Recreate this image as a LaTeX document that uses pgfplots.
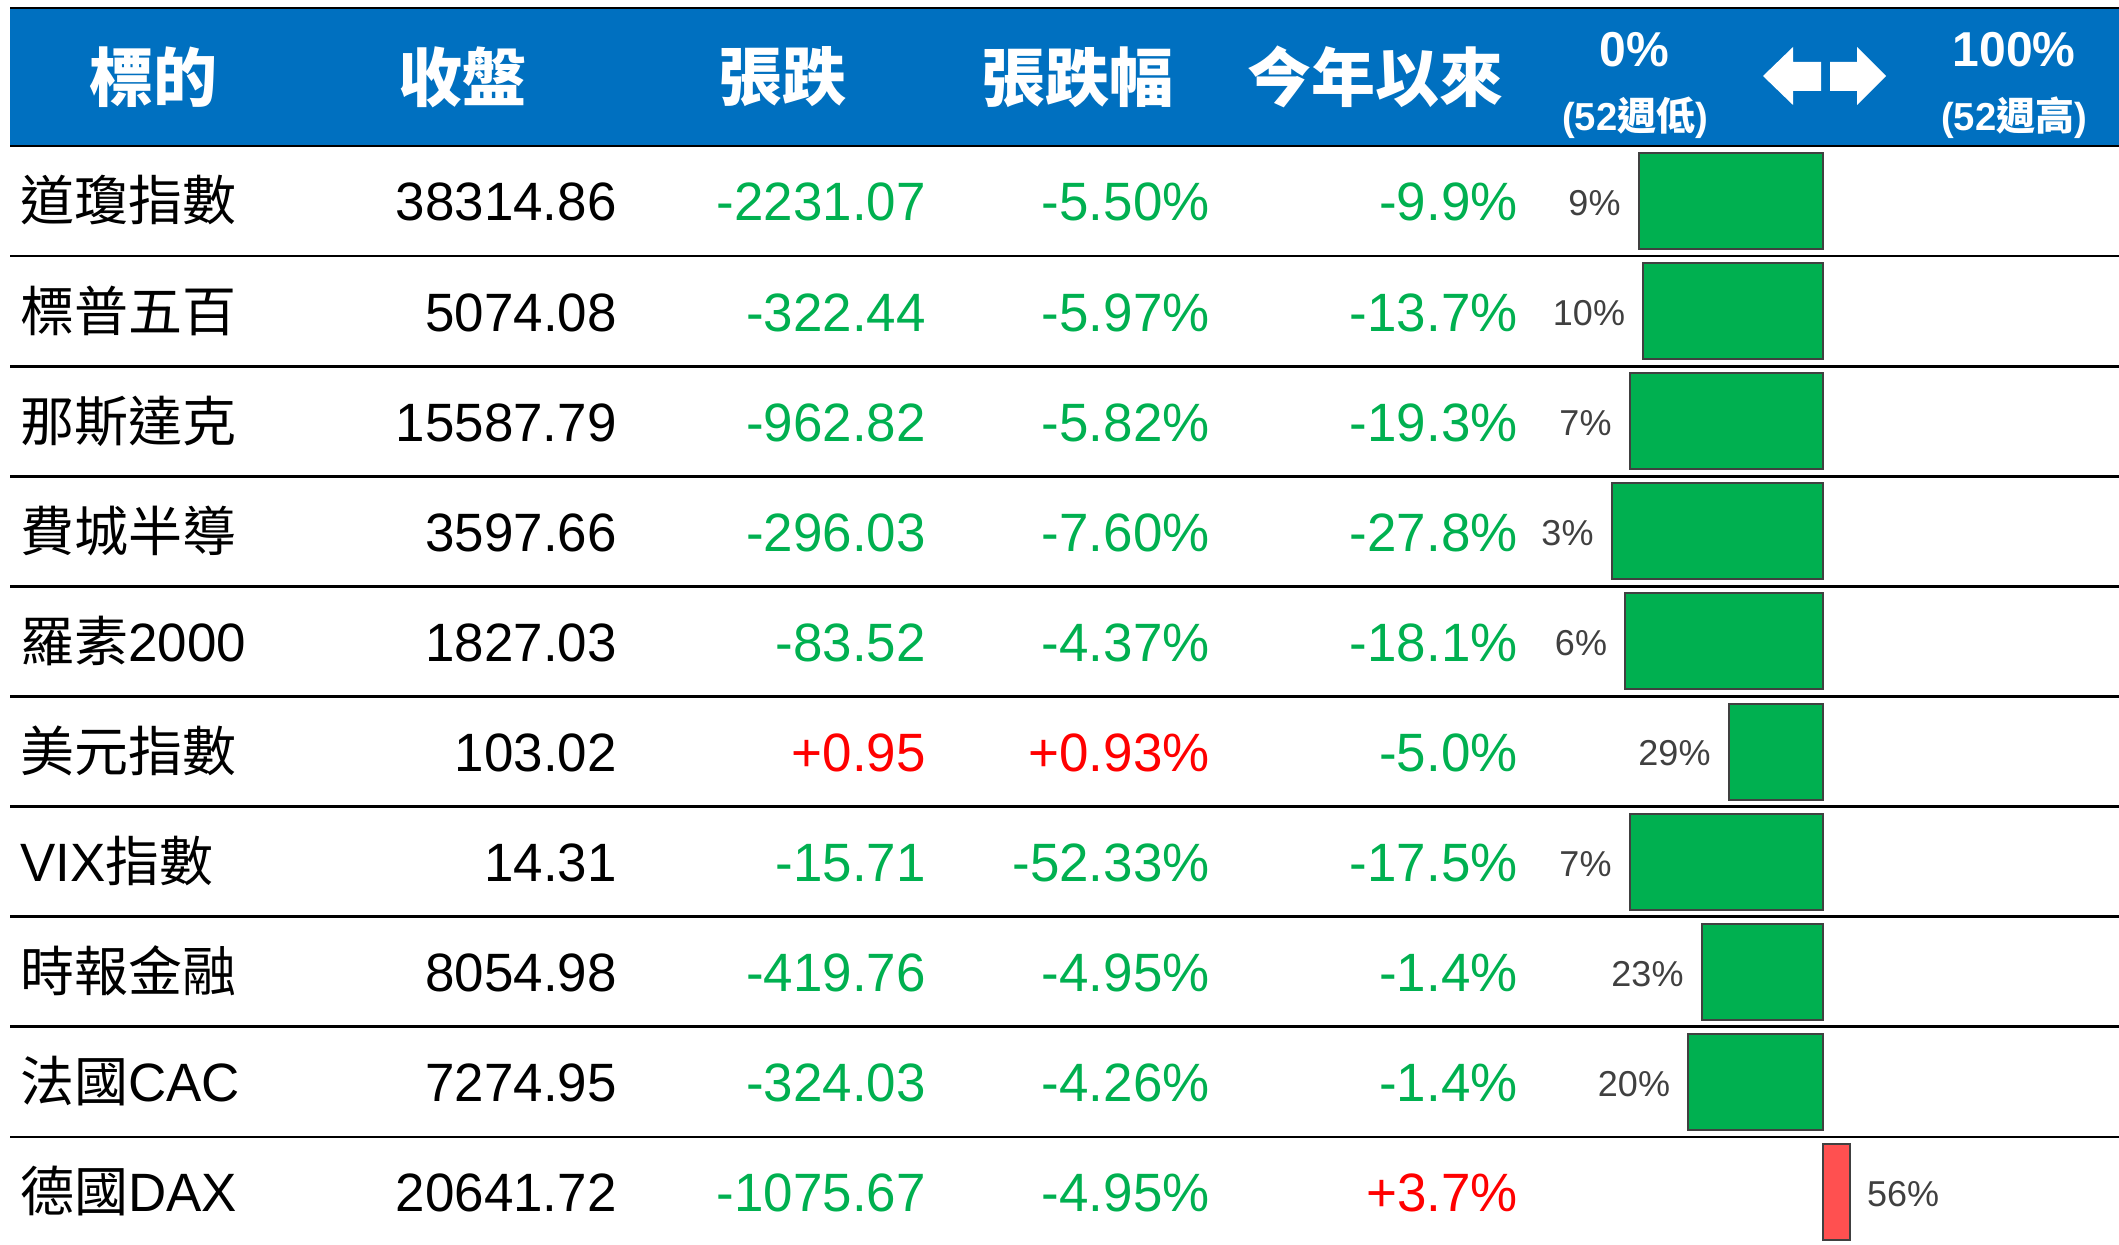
\documentclass[border=0pt]{standalone}
\usepackage{fontspec}
\usepackage{pgfplots}
\usepackage{pgfplotstable}
\pgfplotsset{compat=1.18}
\setmainfont{Liberation Sans}
\newfontfamily\numfont{Liberation Sans}[FakeStretch=0.98]
\newfontfamily\cjk{Noto Sans CJK TC}

\definecolor{hdrblue}{HTML}{0070C0}
\definecolor{upred}{HTML}{FF0000}
\definecolor{dngreen}{HTML}{00B050}
\definecolor{barred}{HTML}{FF5050}
\definecolor{lblgray}{HTML}{404040}

% position inside the 52-week range, in percent
\pgfplotstableread{
y p
0 9
1 10
2 7
3 3
4 6
5 29
6 7
7 23
8 20
}\lowtab
\pgfplotstableread{
y p
9 56
}\hightab

\newcommand\rowfont{\fontsize{27}{30}\selectfont}
\newcommand\hdrfont{\fontsize{32}{34}\selectfont\bfseries}
% #1 row, #2 name, #3 close, #4 change, #5 colour, #6 change %, #7 ytd, #8 colour
\newcommand\rowtext[8]{%
  \pgfmathsetmacro\yb{221+110.1*#1}
  \node[anchor=base west] at (20,\yb) {\rowfont #2};
  \node[anchor=base east] at (617,\yb) {\rowfont\numfont #3};
  \node[anchor=base east,text=#5] at (926,\yb) {\rowfont\numfont #4};
  \node[anchor=base east,text=#5] at (1210,\yb) {\rowfont\numfont #6};
  \node[anchor=base east,text=#8] at (1518,\yb) {\rowfont\numfont #7};
}

\begin{document}
\begin{tikzpicture}[x=0.5pt,y=-0.5pt,every node/.style={inner sep=0pt}]
\useasboundingbox (0,0) rectangle (2119,1245);

% header band
\fill[hdrblue] (10,9) rectangle (2119,145);
\draw[line width=1.4pt] (10,8) -- (2119,8);
\foreach \k in {0,...,9}{
  \draw[line width=1.4pt] (10,146+110.1*\k) -- (2119,146+110.1*\k);
}

\node[text=white] at (153,77) {\cjk\hdrfont 標的};
\node[text=white] at (462,77) {\cjk\hdrfont 收盤};
\node[text=white] at (782,77) {\cjk\hdrfont 張跌};
\node[text=white] at (1077,77) {\cjk\hdrfont 張跌幅};
\node[text=white] at (1375,77) {\cjk\hdrfont 今年以來};
\node[text=white] at (1634,50) {\fontsize{24.5}{26}\selectfont\bfseries\numfont 0\%};
\node[text=white] at (2014,50) {\fontsize{24.5}{26}\selectfont\bfseries\numfont 100\%};
\node[text=white] at (1635,118) {\fontsize{19.5}{21}\selectfont\bfseries\numfont (52{\cjk\bfseries 週低})};
\node[text=white] at (2014,118) {\fontsize{19.5}{21}\selectfont\bfseries\numfont (52{\cjk\bfseries 週高})};
\fill[white] (1763,76) -- (1793,47) -- (1793,62) -- (1821,62) -- (1821,91) -- (1793,91) -- (1793,105) -- cycle;
\fill[white] (1886,76) -- (1857,47) -- (1857,62) -- (1830,62) -- (1830,91) -- (1857,91) -- (1857,105) -- cycle;

% table rows
\rowtext{0}{\cjk 道瓊指數}{38314.86}{-2231.07}{dngreen}{-5.50\%}{-9.9\%}{dngreen}
\rowtext{1}{\cjk 標普五百}{5074.08}{-322.44}{dngreen}{-5.97\%}{-13.7\%}{dngreen}
\rowtext{2}{\cjk 那斯達克}{15587.79}{-962.82}{dngreen}{-5.82\%}{-19.3\%}{dngreen}
\rowtext{3}{\cjk 費城半導}{3597.66}{-296.03}{dngreen}{-7.60\%}{-27.8\%}{dngreen}
\rowtext{4}{{\cjk 羅素}\numfont 2000}{1827.03}{-83.52}{dngreen}{-4.37\%}{-18.1\%}{dngreen}
\rowtext{5}{\cjk 美元指數}{103.02}{+0.95}{upred}{+0.93\%}{-5.0\%}{dngreen}
\rowtext{6}{{\numfont VIX}\cjk 指數}{14.31}{-15.71}{dngreen}{-52.33\%}{-17.5\%}{dngreen}
\rowtext{7}{\cjk 時報金融}{8054.98}{-419.76}{dngreen}{-4.95\%}{-1.4\%}{dngreen}
\rowtext{8}{{\cjk 法國}\numfont CAC}{7274.95}{-324.03}{dngreen}{-4.26\%}{-1.4\%}{dngreen}
\rowtext{9}{{\cjk 德國}\numfont DAX}{20641.72}{-1075.67}{dngreen}{-4.95\%}{+3.7\%}{upred}

% 52-week range bars, drawn from the 50% midpoint
\begin{axis}[
  at={(799pt,-73pt)}, anchor=north west,
  scale only axis, width=225pt, height=550.5pt,
  xmin=-50, xmax=50, ymin=-0.5, ymax=9.5, y dir=reverse,
  hide axis, clip=false,
  xbar, bar width=48pt, bar shift=0pt,
  nodes near coords={\pgfmathprintnumber{\pgfplotspointmeta}\%},
  every node near coord/.append style={font={\fontsize{18}{20}\selectfont}, text=lblgray, inner sep=0pt,
    yshift=-1pt, /pgf/number format/assume math mode=true},
]
\addplot[draw=lblgray, line width=1pt, fill=dngreen, point meta=\thisrow{p},
  every node near coord/.append style={anchor=east, xshift=-8.5pt}]
  table[x expr=\thisrow{p}-50, y=y] {\lowtab};
\addplot[draw=lblgray, line width=1pt, fill=barred, point meta=\thisrow{p},
  every node near coord/.append style={anchor=west, xshift=8pt}]
  table[x expr=\thisrow{p}-50, y=y] {\hightab};
\end{axis}
\end{tikzpicture}
\end{document}
